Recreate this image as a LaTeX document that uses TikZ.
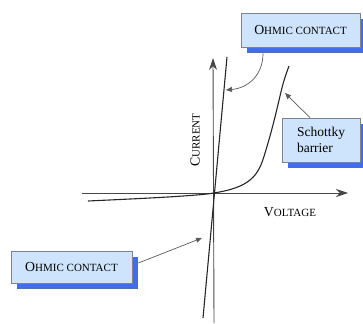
\documentclass[tikz,border=0pt]{standalone}
\usepackage{fontspec}
\setmainfont{Liberation Serif}
\usetikzlibrary{arrows.meta,shadows}
\definecolor{boxfill}{RGB}{206,228,252}
\definecolor{boxshade}{RGB}{66,108,238}
\definecolor{boxline}{RGB}{130,130,130}
\definecolor{axisgray}{RGB}{70,70,70}
% large initial capital followed by smaller capitals
\newcommand\capsc[2]{{\fontsize{13.8}{16}\selectfont #1}{\fontsize{11}{16}\selectfont #2}}
\begin{document}
\begin{tikzpicture}[x=1pt,y=-1pt,
  labelbox/.style={draw=boxline,line width=0.7pt,fill=boxfill,inner sep=0pt,
    drop shadow={shadow xshift=6pt,shadow yshift=-6pt,fill=boxshade,opacity=1}},
  axisline/.style={draw=axisgray,line width=0.9pt,-{Stealth[length=12pt,width=8pt]}},
  curveline/.style={draw=black!85,line width=1.1pt},
  pointer/.style={draw=black!65,line width=0.7pt,-{Triangle[length=6pt,width=5pt]}}]
\useasboundingbox (0,0) rectangle (363,323);

% axes
\coordinate (xstart) at (82,193);
\coordinate (xend) at (348,193);
\coordinate (ystart) at (214,323);
\coordinate (yend) at (213,58);
\draw[axisline] (xstart) -- (xend);
\draw[axisline] (ystart) -- (yend);

% ohmic characteristic: steep straight line through the origin
\coordinate (ohmA) at (203,318);
\coordinate (ohmB) at (227,57);
\draw[curveline] (ohmA) -- (ohmB);

% schottky characteristic
\draw[curveline] plot[smooth,tension=0.6] coordinates {
  (88,201) (150,198) (190,195.5) (214,193) (235,188) (250,180) (260,167)
  (268,143) (275,117) (283,84) (289,66)};

% axis labels
\node[rotate=90] (cur) at (195,140) {\capsc{C}{URRENT}};
\node (volt) at (290,212) {\capsc{V}{OLTAGE}};

% callout boxes
\node[labelbox,minimum width=119pt,minimum height=34pt] (ohmtop) at (300.5,30)
  {\capsc{O}{HMIC CONTACT}};
\node[labelbox,minimum width=121pt,minimum height=32pt] (ohmbot) at (71.5,267)
  {\capsc{O}{HMIC CONTACT}};
\node[labelbox,minimum width=78pt,minimum height=44pt,align=left,
  font=\fontsize{13.5}{16.5}\selectfont] (schot) at (321,140)
  {Schottky\\barrier};

% pointers from the boxes to the curves
\coordinate (ohmtip) at (226,90);
\coordinate (schtip) at (285,93);
\coordinate (ohmlow) at (202,238);
\draw[pointer] ([xshift=-37.5pt,yshift=-6pt]ohmtop.south)
  .. controls +(0,22) and (248,88) .. (ohmtip);
\draw[pointer] ([xshift=-11pt]schot.north) -- (schtip);
\draw[pointer] ([xshift=6pt,yshift=4pt]ohmbot.east) -- (ohmlow);
\end{tikzpicture}
\end{document}
